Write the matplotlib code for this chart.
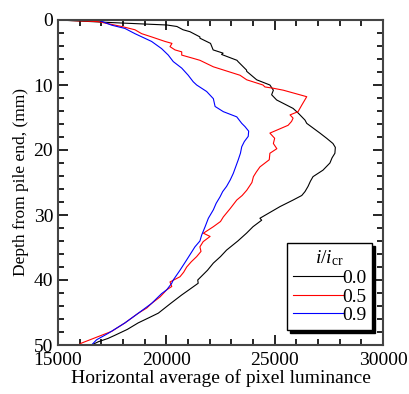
import matplotlib.pyplot as plt
from matplotlib.ticker import MultipleLocator

plt.rcParams['font.family'] = ['Liberation Serif', 'DejaVu Serif']
plt.rcParams['mathtext.fontset'] = 'custom'
plt.rcParams['mathtext.rm'] = 'Liberation Serif'
plt.rcParams['mathtext.it'] = 'Liberation Serif:italic'

# i/i_cr = 0.0
depth_00 = [0, 0.4, 0.77, 1.0, 1.5, 1.8, 2.6, 2.8, 3.6, 4.6, 5.1, 5.3, 6.2, 6.4, 7.7, 7.9,
            9.2, 10.0, 10.8, 11.5, 12.3, 13.6, 14.3, 15.4, 15.9, 17.4, 18.2, 19.0, 19.6,
            20.5, 21.2, 22.0, 23.1, 24.1, 24.8, 25.6, 26.4, 27.0, 27.7, 28.7, 30.5,
            30.8, 31.8, 32.8, 34.0, 35.4, 36.4, 37.4, 38.5, 40.0, 40.5, 41.5, 42.3,
            43.6, 45.1, 45.8, 46.6, 47.6, 48.5, 49.0, 49.5, 50]
lum_00 = [15000, 17500, 20030, 20490, 20770, 21090, 21550, 21550, 22040, 22160, 22620, 22550,
          23260, 23310, 23700, 23710, 24170, 24780, 24940, 24860, 25090, 25850, 26080,
          26400, 26480, 27090, 27400, 27690, 27800, 27780, 27650, 27550, 27230, 26770,
          26650, 26540, 26400, 26250, 25850, 25250, 24320, 24400, 24000, 23700, 23300,
          22780, 22500, 22170, 21900, 21450, 21470, 21050, 20710, 20200, 19630, 19200,
          18700, 18200, 17630, 17300, 16860, 16550]

# i/i_cr = 0.5
depth_05 = [0, 0.25, 1.0, 1.5, 2.1, 2.6, 3.3, 3.6, 4.1, 4.6, 4.9, 5.4, 5.9, 6.2, 7.2, 8.5,
            9.2, 10.0, 10.3, 10.5, 10.8, 11.8, 13.1, 14.1, 14.6, 15.1, 15.6, 16.2, 17.4,
            18.2, 19.0, 19.8, 20.5, 21.5, 22.6, 23.4, 24.1, 25.0, 26.2, 27.0, 27.7, 29.0,
            30.3, 31.0, 31.8, 32.8, 33.3, 34.1, 34.9, 35.6, 36.4, 37.2, 38.0, 38.8, 39.5,
            40.3, 41.0, 41.5, 42.6, 43.6, 44.3, 45.1, 46.6, 47.9, 48.7, 49.7, 50]
lum_05 = [15000, 16850, 17940, 18550, 18860, 19320, 19940, 20260, 20170, 20400, 20710, 20710,
          21240, 21550, 22170, 23400, 23710, 24460, 24550, 24940, 25400, 26480, 26250,
          26080, 25710, 25850, 25780, 25620, 24780, 25000, 24940, 25100, 24780, 24750,
          24320, 24150, 24020, 23950, 23710, 23500, 23250, 22950, 22630, 22500, 22170,
          21710, 22020, 21700, 21550, 21600, 21400, 21150, 20940, 20800, 20630, 20170,
          20250, 20020, 19710, 19320, 19100, 18710, 18090, 17480, 16860, 16090, 15930]

# i/i_cr = 0.9
depth_09 = [0, 0.8, 1.3, 2.1, 3.3, 4.4, 5.4, 6.4, 7.4, 8.5, 9.5, 10.0, 11.0, 12.1,
            13.3, 14.1, 14.9, 15.9, 16.4, 17.1, 17.9, 18.7, 19.5, 20.5, 21.5, 22.6, 23.6,
            24.6, 25.6, 26.4, 27.2, 28.2, 29.2, 30.5, 31.8, 33.1, 34.0, 34.9, 36.9, 38.5,
            40.0, 40.5, 41.5, 42.1, 43.6, 45.1, 46.6, 48.2, 49.2, 50]
lum_09 = [16850, 17480, 18090, 18550, 19320, 19780, 20090, 20320, 20710, 21010,
          21240, 21400, 21860, 22170, 22250, 22630, 23250, 23480, 23630, 23800, 23780,
          23600, 23480, 23420, 23320, 23200, 23090, 22950, 22780, 22600, 22480, 22300,
          22170, 21940, 21790, 21630, 21550, 21320, 20940, 20630, 20320, 20250, 20020,
          19780, 19320, 18710, 18090, 17320, 16780, 16550]

series_labels = ['0.0', '0.5', '0.9']
series_colors = ['black', 'red', 'blue']

fig = plt.figure(figsize=(4.09, 3.94), dpi=100)
ax = fig.add_axes([58 / 409, 49 / 394, 325 / 409, 325 / 394])

for d, lum, lab, col in zip([depth_00, depth_05, depth_09], [lum_00, lum_05, lum_09],
                            series_labels, series_colors):
    ax.plot(lum, d, color=col, lw=0.8, label=lab)

ax.set_xlim(15000, 30000)
ax.set_ylim(50, 0)
ax.xaxis.set_major_locator(MultipleLocator(5000))
ax.xaxis.set_minor_locator(MultipleLocator(1000))
ax.yaxis.set_major_locator(MultipleLocator(10))
ax.yaxis.set_minor_locator(MultipleLocator(2))
ax.tick_params(which='both', direction='in', top=True, right=True, labelsize=14, width=1.2)
ax.tick_params(axis='x', pad=5)
ax.tick_params(which='major', length=7)
ax.tick_params(which='minor', length=4)
for s in ax.spines.values():
    s.set_linewidth(1.5)
    s.set_color('#444444')

ax.set_xlabel('Horizontal average of pixel luminance', fontsize=14, labelpad=0)
ax.set_ylabel('Depth from pile end, (mm)', fontsize=12.5, labelpad=3)

leg = ax.legend(title=r'$i/i_{\mathrm{cr}}$', loc='lower right', bbox_to_anchor=(0.966, 0.046),
                borderaxespad=0, fontsize=14, title_fontsize=14, frameon=True, fancybox=False,
                shadow={'color': 'black', 'alpha': 1}, handlelength=2.6, handletextpad=-0.1,
                borderpad=0.3, labelspacing=0.05)
leg.get_frame().set_edgecolor('black')
leg.get_frame().set_linewidth(1.0)

fig.savefig('out.png', dpi=100)
